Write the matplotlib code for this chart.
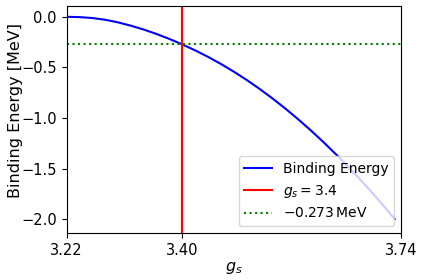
import numpy as np
import matplotlib
matplotlib.use("Agg")
import matplotlib.pyplot as plt

# binding energy
g_s = [3.22, 3.24, 3.26, 3.28, 3.30, 3.32, 3.34, 3.36, 3.38, 3.40,
       3.42, 3.44, 3.46, 3.48, 3.50, 3.52, 3.54, 3.56, 3.58, 3.60,
       3.62, 3.64, 3.66, 3.68, 3.70, 3.72, 3.73]
energy = [0.000, -0.003, -0.012, -0.029, -0.055, -0.088, -0.126, -0.170, -0.219, -0.273,
          -0.332, -0.396, -0.466, -0.542, -0.624, -0.712, -0.806, -0.906, -1.012, -1.124,
          -1.242, -1.366, -1.496, -1.632, -1.774, -1.922, -1.998]

g_mark = 3.4
e_mark = -0.273
xticks = [3.22, 3.40, 3.74]

plt.rcParams['font.size'] = 10

fig = plt.figure(figsize=(4.24, 2.8), dpi=100)
ax = fig.add_axes([0.157, 0.168, 0.789, 0.811])

ax.plot(g_s, energy, color='b', label='Binding Energy')
ax.axvline(g_mark, color='r', label=r'$g_s = 3.4$')
ax.axhline(e_mark, color='g', linestyle=':', label=r'$-0.273\,$MeV')

ax.set_xlim(3.22, 3.74)
ax.set_ylim(-2.135, 0.108)
ax.set_xticks(xticks)
ax.set_xticklabels(['3.22', '3.40', '3.74'])
ax.tick_params(labelsize=10.5)
ax.set_xlabel(r'$g_s$', fontsize=11.5, labelpad=2)
ax.set_ylabel('Binding Energy [MeV]', fontsize=11.5)
ax.yaxis.set_label_coords(-0.13, 0.54)
ax.legend(loc='lower right', fontsize=10)

fig.savefig('out.png', dpi=100)
